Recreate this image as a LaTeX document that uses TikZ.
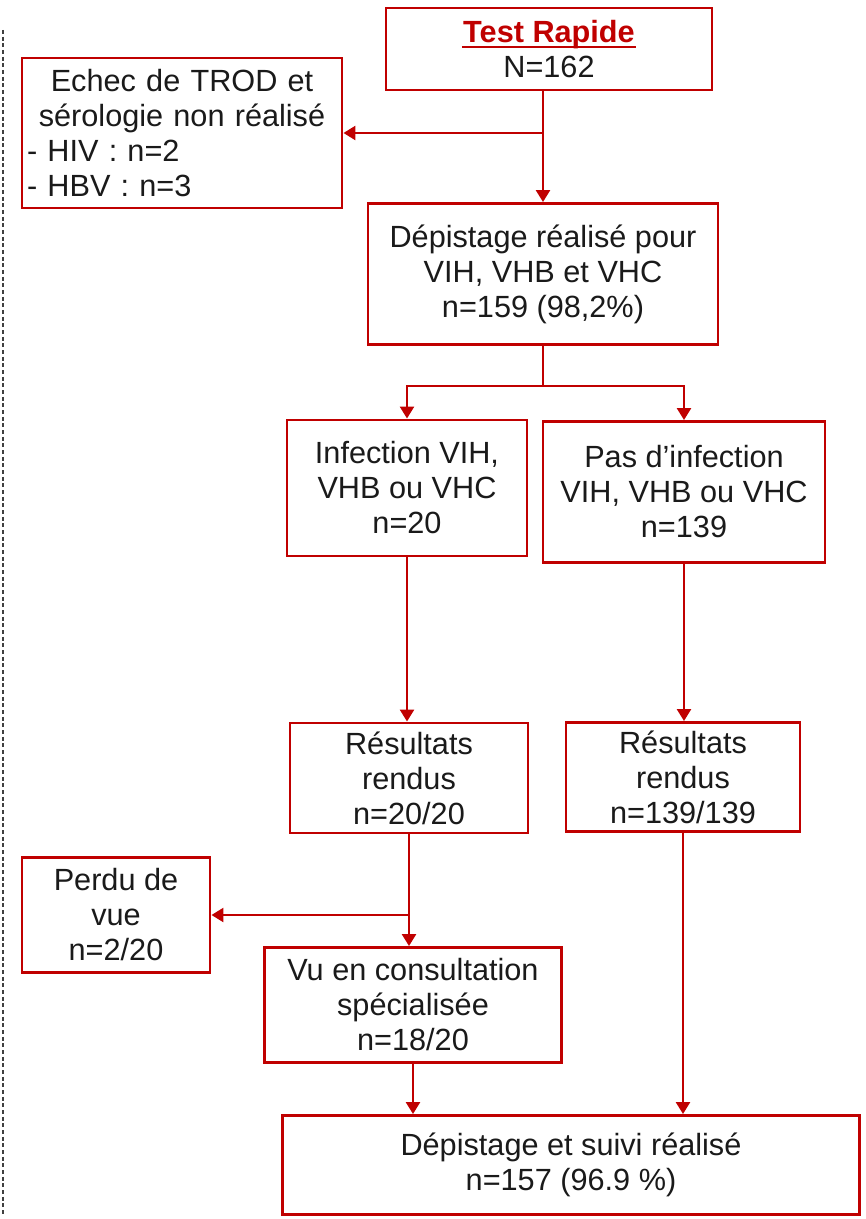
\documentclass[tikz,border=0pt]{standalone}
\usepackage{fontspec}
\setmainfont{Liberation Sans}
\usetikzlibrary{arrows.meta}
\definecolor{trRed}{HTML}{C00000}
\definecolor{trText}{HTML}{1A1A1A}
\newcommand{\trunder}[1]{\setbox0\hbox{#1}\rlap{\hspace{-1pt}\rule[-4pt]{\dimexpr\wd0+2pt\relax}{1.7pt}}\box0}
\tikzset{
  trnode/.style={
    draw=trRed, line width=2.2pt, fill=white, align=center, text=trText,
    font=\fontsize{23pt}{26.25pt}\selectfont, inner sep=3pt
  },
  trline/.style={draw=trRed, line width=1.9pt},
  trflow/.style={trline, -{Triangle[length=9pt, width=10.5pt]}},
  trframe/.style={densely dashed, line width=0.8pt, black!75}
}
\begin{document}
\begin{tikzpicture}[x=0.75pt, y=-0.75pt]
  \useasboundingbox (0,0) rectangle (865,1219);
  \draw[trframe] (3,30) -- (3,1215);
  % boxes
  \node[trnode, minimum width=326*0.75pt, minimum height=82*0.75pt] (test) at (549,49)
    {\textcolor{trRed}{\trunder{\textbf{Test Rapide}}}\\N=162};
  \node[trnode, minimum width=320*0.75pt, minimum height=150*0.75pt, text width=310*0.75pt, align=left] (echec) at (182,133)
    {{\centering Echec de TROD et\\sérologie non réalisé\par}- HIV : n=2\\- HBV : n=3};
  \node[trnode, minimum width=350*0.75pt, minimum height=141*0.75pt] (dep) at (543,274)
    {Dépistage réalisé pour\\VIH, VHB et VHC\\n=159 (98,2\%)};
  \node[trnode, minimum width=240*0.75pt, minimum height=136*0.75pt] (inf) at (407,488)
    {Infection VIH,\\VHB ou VHC\\n=20};
  \node[trnode, minimum width=282*0.75pt, minimum height=141*0.75pt] (pas) at (684,492)
    {Pas d’infection\\VIH, VHB ou VHC\\n=139};
  \node[trnode, minimum width=238*0.75pt, minimum height=110*0.75pt] (resL) at (409,778)
    {Résultats\\rendus\\n=20/20};
  \node[trnode, minimum width=234*0.75pt, minimum height=109*0.75pt] (resR) at (683,777)
    {Résultats\\rendus\\n=139/139};
  \node[trnode, minimum width=188*0.75pt, minimum height=115*0.75pt] (perdu) at (116,915)
    {Perdu de\\vue\\n=2/20};
  \node[trnode, minimum width=297*0.75pt, minimum height=115*0.75pt] (vu) at (413,1005)
    {Vu en consultation\\spécialisée\\n=18/20};
  \node[trnode, minimum width=577*0.75pt, minimum height=99*0.75pt] (final) at (571,1165)
    {Dépistage et suivi réalisé\\n=157 (96.9 \%)};
  % connectors
  \draw[trflow] (dep.north |- test.south) -- (dep.north);
  \draw[trflow] (dep.north |- echec.east) -- (echec.east);
  \draw[trline] (dep.south) -- ++(0,40) coordinate (split);
  \draw[trflow] (split) -| (inf.north);
  \draw[trflow] (split) -| (pas.north);
  \draw[trflow] (inf.south) -- (inf.south |- resL.north);
  \draw[trflow] (pas.south) -- (pas.south |- resR.north);
  \draw[trflow] (resL.south) -- (resL.south |- vu.north);
  \draw[trflow] (resL.south |- perdu.east) -- (perdu.east);
  \draw[trflow] (vu.south) -- (vu.south |- final.north);
  \draw[trflow] (resR.south) -- (resR.south |- final.north);
\end{tikzpicture}
\end{document}
